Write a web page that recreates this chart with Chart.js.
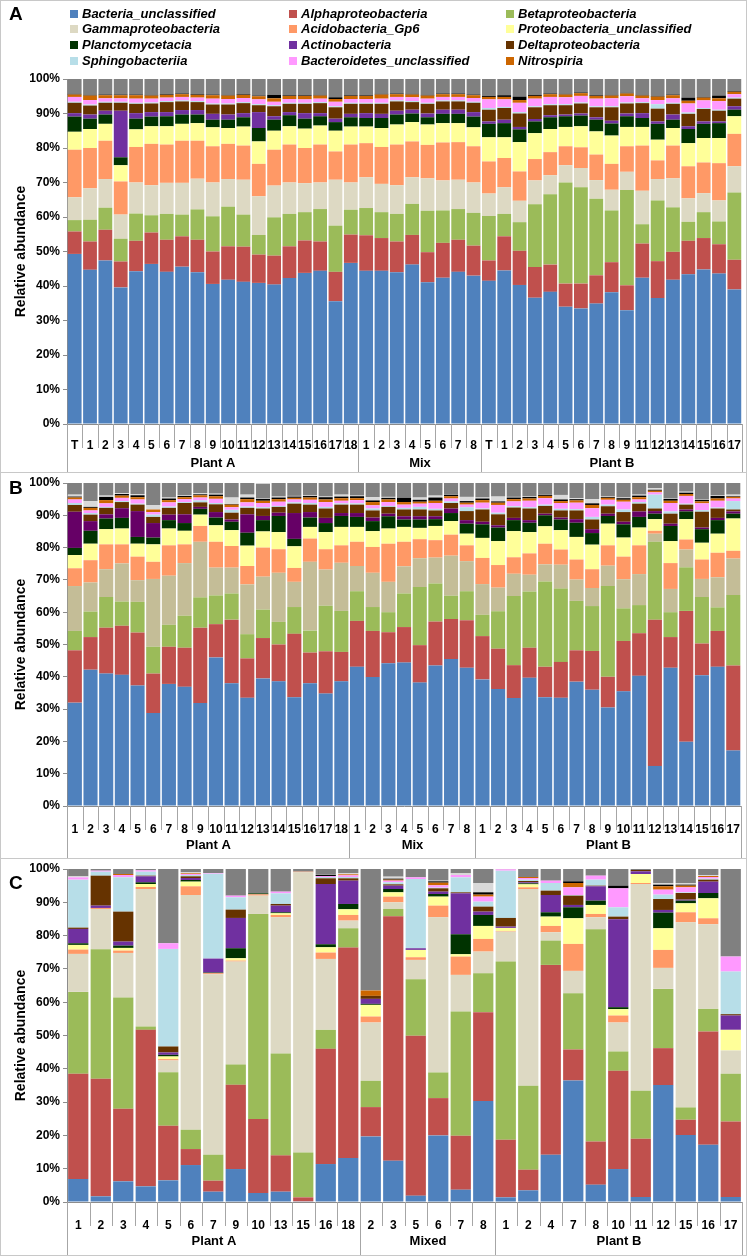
<!DOCTYPE html>
<html>
<head>
<meta charset="utf-8">
<script src="https://cdn.jsdelivr.net/npm/chart.js@4.4.1/dist/chart.umd.min.js"></script>
<style>
  body { margin: 0; background: #fff; font-family: "Liberation Sans", Arial, sans-serif; }
  #page { position: relative; width: 748px; height: 1256px; overflow: hidden; }
  #page canvas { position: absolute; left: 0; }
  .frame { position: absolute; border: 1px solid #c8c8c8; box-sizing: border-box; pointer-events: none; }
  .letter { position: absolute; font-weight: bold; font-size: 19px; line-height: 20px; }
  .item { position: absolute; font-weight: bold; font-style: italic; font-size: 13px; line-height: 14px; white-space: nowrap; }
  .item i { display: inline-block; width: 8px; height: 8px; margin-right: 4px; }
</style>
</head>
<body>
<div id="page">
  <canvas id="chartA" width="748" height="472" style="top:0"></canvas>
  <canvas id="chartB" width="748" height="386" style="top:472px"></canvas>
  <canvas id="chartC" width="748" height="398" style="top:858px"></canvas>
  <div class="frame" style="left:0;top:0;width:747px;height:473px"></div>
  <div class="frame" style="left:0;top:472px;width:747px;height:387px"></div>
  <div class="frame" style="left:0;top:858px;width:747px;height:398px"></div>
  <div class="letter" style="left:9px;top:4px">A</div>
  <div class="letter" style="left:9px;top:478px">B</div>
  <div class="letter" style="left:9px;top:873px">C</div>
  <div id="legend"></div>
</div>
<script>
// series names, bottom to top of each stack
const names = ['Bacteria_unclassified', 'Alphaproteobacteria', 'Betaproteobacteria',
  'Gammaproteobacteria', 'Acidobacteria_Gp6', 'Proteobacteria_unclassified',
  'Planctomycetacia', 'Actinobacteria', 'Deltaproteobacteria',
  'Sphingobacteriia', 'Bacteroidetes_unclassified', 'Nitrospiria',
  'Other (black)', 'Other (light grey)', 'Other'];

// ---------- panel A ----------
const aLabels = ['T','1','2','3','4','5','6','7','8','9','10','11','12','13','14','15','16','17','18',
  '1','2','3','4','5','6','7','8',
  'T','1','2','3','4','5','6','7','8','9','11','12','13','14','15','16','17'];
const aGroups = ['Plant A', 'Mix', 'Plant B'];
const aSizes = [19, 8, 17];

const aBact = [49.3, 44.7, 47.4, 39.6, 44.3, 46.4, 44.1, 45.6, 44.0, 40.6, 41.8, 41.2, 40.9, 40.4, 42.3, 43.8, 44.4, 35.6, 46.7,
  44.4, 44.4, 44.0, 46.2, 41.1, 42.4, 44.1, 43.0,
  41.5, 44.5, 40.3, 36.6, 38.3, 34.0, 33.5, 34.9, 38.2, 33.0, 42.4, 36.5, 41.8, 43.4, 44.8, 43.6, 39.0];
const aAlpha = [6.5, 8.2, 8.9, 7.5, 8.8, 9.1, 9.3, 8.8, 9.4, 9.4, 9.7, 10.2, 8.2, 8.4, 9.2, 9.4, 8.5, 8.5, 8.2,
  10.3, 9.5, 8.9, 8.6, 8.7, 10.1, 9.3, 8.7,
  5.9, 9.9, 9.9, 8.9, 7.9, 6.7, 7.2, 8.2, 8.7, 7.2, 9.9, 10.7, 8.1, 9.7, 9.1, 8.5, 8.6];
const aBeta = [3.3, 6.3, 6.4, 6.6, 7.9, 5.0, 7.5, 6.3, 8.8, 10.2, 11.5, 9.3, 5.7, 11.1, 9.4, 8.2, 9.4, 13.4, 7.2,
  7.9, 7.5, 8.0, 9.0, 12.0, 9.4, 8.9, 9.5,
  12.9, 6.5, 8.3, 18.2, 20.4, 29.3, 27.9, 22.2, 15.0, 27.6, 5.6, 17.6, 12.9, 5.5, 7.5, 6.6, 19.5];
const aGamma = [6.6, 9.1, 8.3, 7.0, 9.0, 8.7, 9.0, 9.2, 8.9, 9.8, 8.0, 10.1, 11.2, 9.2, 9.1, 8.4, 7.7, 13.3, 7.9,
  8.9, 8.2, 8.3, 7.7, 9.4, 8.7, 8.5, 8.8,
  6.5, 7.7, 6.2, 6.9, 5.5, 5.0, 5.6, 5.4, 6.0, 5.3, 9.7, 6.2, 8.4, 6.8, 5.5, 6.1, 7.6];
const aAcido = [13.8, 11.7, 11.1, 9.6, 10.3, 12.0, 11.1, 12.2, 11.0, 10.5, 10.2, 9.9, 9.4, 10.4, 11.0, 10.2, 11.0, 8.2, 11.0,
  9.9, 10.7, 11.8, 10.4, 9.7, 11.0, 10.9, 10.5,
  9.3, 8.5, 8.5, 6.2, 6.7, 5.5, 6.0, 7.4, 7.5, 7.4, 13.1, 5.4, 9.5, 9.3, 8.9, 10.8, 9.4];
const aProteo = [5.2, 5.5, 4.9, 4.7, 5.1, 5.1, 5.3, 4.9, 5.1, 5.5, 4.6, 5.5, 6.5, 5.5, 5.3, 5.6, 5.5, 6.0, 5.2,
  4.8, 5.5, 5.8, 5.6, 5.9, 5.6, 5.5, 5.5,
  7.0, 6.0, 8.5, 7.5, 6.7, 5.6, 6.1, 6.7, 8.2, 5.6, 5.4, 6.0, 5.1, 6.7, 7.1, 7.3, 5.1];
const aPlancto = [4.4, 3.0, 2.7, 2.3, 3.1, 2.8, 2.9, 2.7, 2.5, 2.2, 2.4, 2.7, 3.9, 3.2, 3.2, 2.9, 2.7, 2.5, 2.7,
  2.5, 2.9, 2.9, 2.5, 2.1, 2.7, 2.7, 3.1,
  3.9, 4.1, 3.7, 3.4, 3.4, 3.1, 3.1, 3.4, 3.5, 3.1, 2.6, 4.6, 2.4, 4.1, 4.1, 4.3, 1.9];
const aActino = [1.0, 1.2, 1.1, 13.5, 1.6, 1.3, 1.2, 1.3, 1.3, 1.7, 1.5, 1.2, 4.6, 1.0, 0.9, 1.6, 0.9, 1.0, 1.0,
  1.4, 1.2, 1.1, 1.1, 1.1, 1.2, 1.2, 1.3,
  0.7, 1.0, 0.7, 0.7, 0.6, 0.5, 0.6, 0.7, 0.8, 0.8, 1.4, 0.7, 1.5, 0.8, 0.7, 0.5, 1.0];
const aDelta = [3.0, 2.6, 2.3, 2.3, 2.7, 2.5, 2.9, 2.5, 2.3, 2.7, 2.9, 2.9, 2.0, 2.9, 2.4, 2.7, 2.9, 3.3, 2.9,
  2.7, 2.9, 2.7, 2.2, 2.8, 2.4, 2.4, 2.7,
  3.4, 3.4, 3.9, 3.4, 2.9, 2.7, 2.9, 2.9, 3.9, 2.9, 2.9, 3.7, 3.1, 3.6, 3.6, 3.1, 2.2];
const aSphingo = [0.3, 0.3, 0.3, 0.3, 0.3, 0.3, 0.3, 0.3, 0.3, 0.3, 0.3, 0.3, 0.3, 0.3, 0.3, 0.3, 0.3, 0.3, 0.3,
  0.3, 0.3, 0.3, 0.3, 0.3, 0.3, 0.3, 0.3,
  0.5, 0.3, 0.4, 0.3, 0.3, 0.3, 0.3, 0.3, 0.3, 0.3, 0.3, 1.3, 0.3, 0.4, 0.3, 0.3, 0.3];
const aBactero = [1.4, 1.3, 1.0, 1.0, 1.2, 1.1, 1.0, 1.0, 1.0, 1.4, 1.3, 1.2, 1.4, 1.0, 1.1, 1.0, 1.0, 1.3, 1.1,
  1.1, 1.2, 1.0, 1.1, 1.2, 1.0, 1.0, 1.1,
  2.5, 2.2, 2.7, 2.2, 2.1, 2.0, 1.9, 2.2, 2.3, 1.8, 1.1, 1.2, 1.3, 2.6, 2.2, 2.5, 1.0];
const aNitro = [0.7, 1.3, 0.9, 0.9, 1.0, 0.9, 0.8, 0.8, 0.8, 1.0, 1.0, 0.9, 0.9, 1.0, 0.9, 1.0, 0.9, 0.8, 0.9,
  0.9, 1.2, 0.8, 0.8, 0.9, 0.8, 0.8, 0.8,
  0.7, 0.7, 0.8, 0.8, 0.8, 0.8, 0.8, 0.8, 0.8, 0.8, 0.8, 1.0, 0.9, 0.8, 0.8, 0.8, 0.7];
const aBlack = [0.2, 0.2, 0.2, 0.2, 0.2, 0.2, 0.2, 0.2, 0.2, 0.2, 0.2, 0.2, 0.2, 1.0, 0.2, 0.2, 0.2, 0.5, 0.2,
  0.2, 0.2, 0.2, 0.2, 0.2, 0.2, 0.2, 0.2,
  0.3, 0.5, 1.0, 0.3, 0.2, 0.2, 0.2, 0.2, 0.2, 0.2, 0.2, 0.2, 0.2, 0.9, 0.2, 0.8, 0.2];
const aLgray = [0, 0, 0, 0, 0, 0, 0, 0, 0, 0, 0, 0, 0, 0, 0, 0, 0, 0, 0,
  0, 0, 0, 0, 0, 0, 0, 0,
  0, 0, 0, 0, 0, 0, 0, 0, 0, 0, 0, 0, 0, 0, 0, 0, 0];
const aGray = [4.3, 4.6, 4.5, 4.5, 4.5, 4.6, 4.4, 4.2, 4.4, 4.5, 4.6, 4.4, 4.8, 4.6, 4.7, 4.7, 4.6, 5.3, 4.7,
  4.7, 4.3, 4.2, 4.3, 4.6, 4.2, 4.2, 4.6,
  4.9, 4.7, 5.1, 4.6, 4.2, 4.3, 3.9, 4.7, 4.6, 4.0, 4.6, 4.9, 4.5, 5.4, 5.2, 4.8, 3.5];

// ---------- panel B ----------
const bLabels = ['1','2','3','4','5','6','7','8','9','10','11','12','13','14','15','16','17','18',
  '1','2','3','4','5','6','7','8',
  '1','2','3','4','5','6','7','8','9','10','11','12','13','14','15','16','17'];
const bGroups = ['Plant A', 'Mix', 'Plant B'];
const bSizes = [18, 8, 17];

const bBact = [32.0, 42.2, 41.0, 40.6, 37.3, 28.8, 37.8, 36.9, 31.9, 46.0, 38.0, 33.5, 39.5, 38.6, 33.7, 38.0, 34.8, 38.6,
  43.1, 39.9, 44.2, 44.4, 38.2, 43.5, 45.5, 42.8,
  39.2, 36.2, 33.4, 39.7, 33.7, 33.5, 38.5, 36.0, 30.5, 35.5, 40.3, 12.4, 42.8, 19.9, 40.5, 43.1, 17.2];
const bAlpha = [16.2, 10.1, 14.2, 15.2, 16.4, 12.2, 11.5, 12.1, 23.3, 10.3, 19.7, 12.2, 12.5, 11.4, 19.6, 9.5, 13.1, 9.1,
  14.2, 14.3, 9.6, 11.0, 11.6, 13.6, 12.4, 14.7,
  13.4, 12.5, 10.2, 9.3, 9.4, 11.1, 9.7, 12.0, 9.5, 15.6, 13.2, 45.3, 9.5, 40.5, 9.8, 11.1, 26.3];
const bBeta = [6.0, 7.9, 9.5, 7.5, 9.5, 8.3, 6.8, 9.9, 9.4, 8.9, 8.1, 7.5, 8.8, 7.0, 8.3, 6.8, 14.1, 12.7,
  9.2, 7.4, 6.2, 10.4, 18.0, 11.8, 7.2, 9.0,
  6.6, 11.6, 21.4, 17.4, 26.4, 22.7, 15.3, 13.9, 28.1, 10.1, 8.7, 24.1, 7.7, 13.5, 14.4, 7.3, 21.8];
const bGamma = [13.9, 9.0, 8.6, 11.8, 6.7, 21.0, 15.2, 16.3, 17.2, 8.6, 8.0, 15.4, 10.2, 15.2, 7.8, 21.3, 11.2, 14.9,
  7.8, 10.6, 9.4, 8.4, 8.9, 8.0, 12.4, 9.3,
  9.5, 7.3, 6.9, 5.2, 5.3, 7.4, 6.6, 5.6, 6.3, 9.0, 9.6, 2.5, 7.2, 5.5, 5.6, 9.3, 11.3];
const bAcido = [5.5, 6.9, 7.7, 5.9, 7.3, 5.3, 9.4, 5.8, 4.9, 8.0, 6.7, 5.7, 9.0, 7.3, 4.3, 7.2, 6.3, 5.4,
  7.5, 8.0, 11.8, 7.6, 5.9, 5.4, 6.5, 4.9,
  8.1, 7.0, 5.1, 6.6, 6.4, 4.7, 6.2, 5.8, 6.3, 7.0, 8.9, 0.9, 8.0, 3.1, 6.0, 7.6, 2.4];
const bProteo = [4.1, 5.1, 4.7, 4.9, 4.0, 5.4, 5.2, 4.2, 3.5, 5.1, 4.9, 6.3, 5.0, 5.3, 6.7, 3.6, 5.3, 5.7,
  4.6, 4.9, 4.7, 4.6, 3.5, 4.4, 4.2, 3.6,
  6.2, 7.4, 8.1, 6.6, 5.4, 6.0, 7.0, 7.6, 6.7, 5.9, 5.5, 3.6, 6.8, 6.3, 5.2, 5.9, 10.0];
const bPlancto = [2.2, 4.0, 3.3, 3.3, 2.1, 2.1, 2.6, 2.4, 1.8, 2.4, 2.6, 4.0, 3.5, 5.0, 2.3, 2.9, 2.8, 3.4,
  3.1, 3.1, 3.8, 2.3, 2.6, 2.1, 2.5, 3.1,
  4.2, 4.2, 3.4, 2.9, 3.4, 3.3, 4.4, 3.6, 2.4, 4.1, 3.3, 1.7, 4.7, 2.4, 4.2, 4.2, 1.5];
const bActino = [11.2, 3.0, 1.3, 3.0, 8.0, 4.5, 1.7, 2.7, 0.6, 1.7, 0.7, 5.7, 1.3, 1.0, 8.0, 1.7, 1.6, 0.9,
  1.2, 1.1, 0.8, 1.0, 1.0, 0.9, 1.4, 1.1,
  0.8, 0.7, 0.7, 0.8, 0.5, 0.6, 1.1, 1.2, 0.7, 0.8, 1.7, 0.8, 0.7, 0.6, 0.5, 0.7, 0.7];
const bDelta = [2.1, 2.0, 2.0, 1.9, 2.0, 1.9, 2.1, 3.5, 1.4, 2.4, 2.1, 2.0, 2.3, 1.8, 2.9, 2.3, 2.9, 2.6,
  2.6, 2.2, 2.1, 2.1, 2.1, 1.8, 1.7, 2.8,
  3.8, 3.4, 3.2, 3.6, 2.4, 2.2, 2.7, 3.0, 2.3, 3.0, 2.4, 0.8, 3.1, 1.5, 4.9, 2.9, 0.6];
const bSphingo = [0.6, 0.5, 0.3, 0.3, 0.3, 0.7, 0.4, 0.3, 0.6, 0.4, 0.9, 0.4, 0.4, 0.3, 0.4, 0.5, 0.5, 0.4,
  0.4, 0.6, 0.3, 0.5, 0.8, 0.5, 0.5, 1.2,
  0.3, 0.5, 0.4, 0.4, 0.4, 0.5, 0.4, 0.8, 0.5, 0.8, 0.5, 4.3, 0.7, 0.3, 0.5, 0.3, 2.6];
const bBactero = [1.1, 0.8, 1.1, 1.0, 1.3, 0.8, 1.3, 0.9, 0.9, 1.3, 0.8, 1.3, 1.3, 1.3, 0.9, 1.0, 1.5, 0.8,
  1.0, 1.0, 1.2, 1.0, 1.0, 1.8, 0.9, 0.8,
  1.8, 2.4, 1.5, 2.0, 2.0, 1.8, 2.0, 2.7, 1.5, 2.4, 0.8, 0.7, 2.6, 2.4, 2.1, 2.1, 0.8];
const bNitro = [0.6, 0.8, 1.0, 0.7, 0.7, 0.8, 0.7, 0.6, 0.7, 0.8, 0.8, 1.0, 0.7, 0.8, 0.5, 0.7, 0.8, 0.8,
  0.6, 1.0, 0.8, 0.8, 0.6, 0.7, 0.7, 0.6,
  0.8, 0.7, 0.7, 0.7, 0.7, 0.6, 0.7, 1.0, 0.6, 0.6, 0.7, 0.5, 0.7, 0.6, 0.6, 0.7, 0.5];
const bBlack = [0.3, 0.3, 1.0, 0.5, 0.6, 0.0, 0.5, 0.4, 0.3, 0.5, 0.2, 0.5, 0.6, 0.5, 0.4, 0.5, 0.7, 0.5,
  0.6, 0.5, 0.5, 1.3, 0.6, 1.0, 0.5, 0.5,
  0.5, 0.4, 0.5, 0.5, 0.4, 0.5, 0.4, 0.5, 0.3, 0.5, 0.5, 0.3, 0.6, 0.4, 0.5, 0.8, 0.2];
const bLgray = [0.6, 1.8, 0.4, 0.3, 0.4, 1.3, 0.3, 0.2, 0.3, 0.3, 2.0, 0.9, 0.2, 0.3, 0.2, 0.2, 0.2, 0.6,
  0.2, 1.0, 0.3, 0.0, 0.7, 0.6, 0.2, 1.3,
  0.3, 1.5, 0.2, 0.2, 0.2, 1.4, 0.3, 1.3, 0.2, 0.2, 0.3, 0.5, 0.2, 0.3, 0.2, 0.2, 0.5];
const bGray = [3.6, 5.6, 3.9, 3.1, 3.4, 6.9, 4.5, 3.8, 3.2, 3.3, 4.5, 3.6, 4.5, 4.2, 4.0, 3.8, 4.2, 3.6,
  3.9, 4.4, 4.3, 4.6, 4.5, 3.9, 3.4, 4.3,
  4.5, 4.2, 4.3, 4.1, 3.4, 3.7, 4.7, 5.0, 4.1, 4.5, 3.6, 1.6, 4.7, 2.7, 5.0, 3.8, 3.6];

// ---------- panel C ----------
const cLabels = ['1','2','3','4','5','6','7','9','10','13','15','16','18',
  '2','3','5','6','7','8',
  '1','2','4','7','8','10','11','12','15','16','17'];
const cGroups = ['Plant A', 'Mixed', 'Plant B'];
const cSizes = [13, 6, 11];

const cBact = [6.9, 1.7, 6.2, 4.7, 6.5, 11.1, 3.1, 9.9, 2.7, 3.1, 0.2, 11.4, 13.2,
  19.7, 12.4, 1.9, 20.0, 3.7, 30.3,
  1.4, 3.5, 14.2, 36.5, 5.2, 9.9, 1.5, 35.1, 20.1, 17.2, 1.5];
const cAlpha = [31.6, 35.3, 21.8, 47.0, 16.4, 4.8, 3.3, 25.3, 22.2, 10.9, 1.2, 34.6, 63.2,
  8.8, 73.4, 48.0, 11.2, 16.2, 26.7,
  17.3, 6.2, 57.0, 9.3, 13.0, 29.5, 17.5, 11.1, 4.6, 34.0, 22.7];
const cBeta = [24.6, 38.9, 33.4, 1.0, 16.1, 5.8, 7.8, 6.1, 61.6, 30.6, 13.5, 5.7, 5.8,
  7.9, 2.2, 17.0, 7.7, 37.3, 11.7,
  53.5, 25.2, 7.3, 16.9, 63.7, 5.8, 14.4, 17.8, 3.7, 6.8, 14.3];
const cGamma = [11.4, 12.1, 13.4, 41.3, 3.5, 70.5, 54.2, 30.9, 5.5, 40.9, 84.1, 21.3, 2.3,
  17.5, 2.0, 5.8, 46.6, 11.0, 6.5,
  9.0, 59.1, 2.5, 6.7, 3.6, 8.7, 62.1, 6.3, 55.6, 25.4, 7.0];
const cAcido = [1.3, 0.3, 0.7, 0.6, 0.4, 2.6, 0.3, 0.3, 0.4, 0.7, 0.2, 1.9, 1.7,
  1.8, 1.7, 0.8, 3.5, 5.5, 3.8,
  0.2, 0.5, 1.9, 8.1, 1.0, 2.1, 0.3, 5.4, 3.0, 1.8, 0];
const cProteo = [1.4, 0, 0.8, 0.9, 0.8, 1.4, 0, 0.7, 0, 0.5, 0, 1.6, 1.7,
  3.5, 1.3, 2.2, 2.7, 0.7, 3.9,
  0.9, 0.9, 2.8, 7.7, 2.7, 1.9, 2.7, 6.5, 2.7, 6.0, 6.2];
const cPlancto = [0.5, 0, 0.7, 0.5, 0.5, 0.5, 0.2, 3.0, 0.3, 0.3, 0, 0.9, 1.6,
  0.3, 1.0, 0, 0.8, 6.0, 3.3,
  0, 0.3, 1.3, 3.3, 1.3, 0.6, 0, 4.7, 0.8, 1.6, 0];
const cActino = [4.3, 0.7, 1.2, 1.8, 0.7, 0.6, 4.2, 9.1, 0, 2.0, 0, 18.1, 7.0,
  1.5, 1.0, 0.5, 0.7, 12.3, 1.0,
  0.4, 0.3, 5.2, 0.7, 4.3, 26.4, 0.8, 0.8, 0.3, 3.4, 4.3];
const cDelta = [0.4, 9.0, 9.0, 0.2, 1.8, 0.5, 0, 2.5, 0, 0.5, 0, 1.7, 0.7,
  0.9, 0.4, 0, 1.0, 0.3, 1.5,
  2.6, 0.4, 1.3, 2.8, 0.2, 0.8, 0.4, 3.3, 2.0, 0.6, 0.4];
const cSphingo = [14.4, 1.2, 10.3, 1.2, 29.3, 0.4, 25.5, 3.7, 0, 3.2, 0, 0.4, 0.4,
  0, 0.6, 20.8, 0.2, 4.5, 1.5,
  14.2, 0.4, 2.3, 0.2, 1.8, 2.8, 0, 1.3, 0.2, 0.3, 12.8];
const cBactero = [0.7, 0.3, 0.7, 0.4, 1.7, 0.3, 0.2, 0.5, 0, 0.5, 0, 0.3, 0.5,
  0, 0.5, 0.5, 0.7, 0.7, 1.5,
  0.4, 0.5, 0.7, 2.3, 1.2, 5.7, 0, 1.5, 1.5, 0.5, 4.5];
const cNitro = [0, 0, 0.3, 0, 0, 0.2, 0, 0, 0, 0, 0, 0, 0.3,
  1.6, 0.3, 0, 0.8, 0, 0.6,
  0, 0.3, 0, 1.3, 0, 0, 0, 1.0, 0.5, 0.3, 0];
const cBlack = [0, 0, 0, 0, 0, 0, 0, 0, 0, 0, 0, 0.4, 0,
  0, 0.3, 0, 0.4, 0, 0.7,
  0, 0, 0, 0.5, 0, 0.8, 0, 0.5, 0.3, 0, 0];
const cLgray = [0.3, 0, 0, 0, 0, 0.3, 0, 0, 0, 0, 0, 0.2, 0.3,
  0, 0.6, 0, 0.2, 0.5, 2.8,
  0, 0, 0, 0, 0, 0, 0, 0.5, 0.5, 0.3, 0];
const cGray = [2.2, 0.5, 1.5, 0.4, 22.3, 1.0, 1.2, 8.0, 7.3, 6.8, 0.8, 1.5, 1.3,
  36.5, 2.3, 2.5, 3.5, 1.3, 4.2,
  0.1, 2.4, 3.5, 3.7, 2.0, 5.0, 0.3, 4.2, 4.2, 1.8, 26.3];

// colours (gammaproteobacteria and actinobacteria are a bit darker in panel B)
const baseColors = ['#4F81BD', '#C0504D', '#9BBB59', '#DDD9C3', '#FF9966', '#FFFF99',
  '#003300', '#7030A0', '#663300', '#B7DEE8', '#FF99FF', '#CC6600', '#000000', '#D9D9D9', '#808080'];
const bColors = baseColors.slice();
bColors[3] = '#C4BD97';
bColors[7] = '#660066';

Chart.defaults.font.family = '"Liberation Sans", Arial, sans-serif';
Chart.defaults.color = '#000';

// sample separators, group separators and group names under the x axis
const groupAxis = {
  id: 'groupAxis',
  afterDraw(chart, args, o) {
    const x = chart.scales.x;
    const area = chart.chartArea;
    const ctx = chart.ctx;
    const n = chart.data.labels.length;
    const half = (x.getPixelForValue(1) - x.getPixelForValue(0)) / 2;
    const edge = i => Math.round(x.getPixelForValue(i) - half) + 0.5;
    ctx.save();
    ctx.strokeStyle = '#a6a6a6';
    ctx.lineWidth = 1;
    ctx.beginPath();
    for (let i = 0; i <= n; i++) {
      ctx.moveTo(edge(i), area.bottom);
      ctx.lineTo(edge(i), area.bottom + o.tick);
    }
    let start = 0;
    ctx.font = 'bold 13px "Liberation Sans", Arial, sans-serif';
    ctx.fillStyle = '#000';
    ctx.textAlign = 'center';
    ctx.textBaseline = 'middle';
    o.sizes.forEach((s, g) => {
      ctx.moveTo(edge(start), area.bottom);
      ctx.lineTo(edge(start), area.bottom + o.depth);
      ctx.fillText(o.names[g], (edge(start) + edge(start + s)) / 2, area.bottom + o.labelY);
      start += s;
    });
    ctx.moveTo(edge(n), area.bottom);
    ctx.lineTo(edge(n), area.bottom + o.depth);
    ctx.stroke();
    ctx.restore();
  }
};

function makeChart(id, labels, series, colors, groups, sizes, padTop, axisH, tickPad) {
  return new Chart(document.getElementById(id), {
    type: 'bar',
    data: {
      labels: labels,
      datasets: series.map((d, i) => ({
        label: names[i],
        data: d,
        backgroundColor: colors[i],
        borderWidth: 0,
        barPercentage: 0.9,
        categoryPercentage: 1.0
      }))
    },
    options: {
      responsive: false,
      animation: false,
      devicePixelRatio: 1,
      layout: { padding: { top: padTop, right: 6, left: 0, bottom: 0 } },
      plugins: {
        legend: { display: false },
        tooltip: { enabled: false },
        groupAxis: { names: groups, sizes: sizes, tick: 24, depth: axisH, labelY: 39 }
      },
      scales: {
        x: {
          stacked: true,
          grid: { display: false },
          border: { color: '#8c8c8c' },
          ticks: { autoSkip: false, minRotation: 0, maxRotation: 0, padding: tickPad,
            font: { size: 12, weight: 'bold' } },
          afterFit: s => { s.height = axisH; }
        },
        y: {
          stacked: true,
          min: 0,
          max: 100,
          grid: { drawOnChartArea: false, tickLength: 4, color: '#8c8c8c' },
          border: { color: '#8c8c8c' },
          ticks: { stepSize: 10, padding: 3, callback: v => v + '%',
            font: { size: 12, weight: 'bold' } },
          title: { display: true, text: 'Relative abundance',
            font: { size: 14, weight: 'bold' }, padding: { top: 13, bottom: 0 } },
          afterFit: s => { s.width = 67; }
        }
      }
    },
    plugins: [groupAxis]
  });
}

makeChart('chartA', aLabels,
  [aBact, aAlpha, aBeta, aGamma, aAcido, aProteo, aPlancto, aActino, aDelta, aSphingo, aBactero, aNitro, aBlack, aLgray, aGray],
  baseColors, aGroups, aSizes, 79, 48, 6);
makeChart('chartB', bLabels,
  [bBact, bAlpha, bBeta, bGamma, bAcido, bProteo, bPlancto, bActino, bDelta, bSphingo, bBactero, bNitro, bBlack, bLgray, bGray],
  bColors, bGroups, bSizes, 11, 52, 8);
makeChart('chartC', cLabels,
  [cBact, cAlpha, cBeta, cGamma, cAcido, cProteo, cPlancto, cActino, cDelta, cSphingo, cBactero, cNitro, cBlack, cLgray, cGray],
  baseColors, cGroups, cSizes, 11, 54, 8);

// legend: 12 named classes in three columns
const legend = document.getElementById('legend');
const colX = [70, 289, 506];
const rowY = [7, 22, 38, 54];
names.slice(0, 12).forEach((name, i) => {
  const el = document.createElement('div');
  el.className = 'item';
  el.style.left = colX[i % 3] + 'px';
  el.style.top = rowY[Math.floor(i / 3)] + 'px';
  el.innerHTML = '<i style="background:' + baseColors[i] + '"></i>' + name;
  legend.appendChild(el);
});
</script>
</body>
</html>
